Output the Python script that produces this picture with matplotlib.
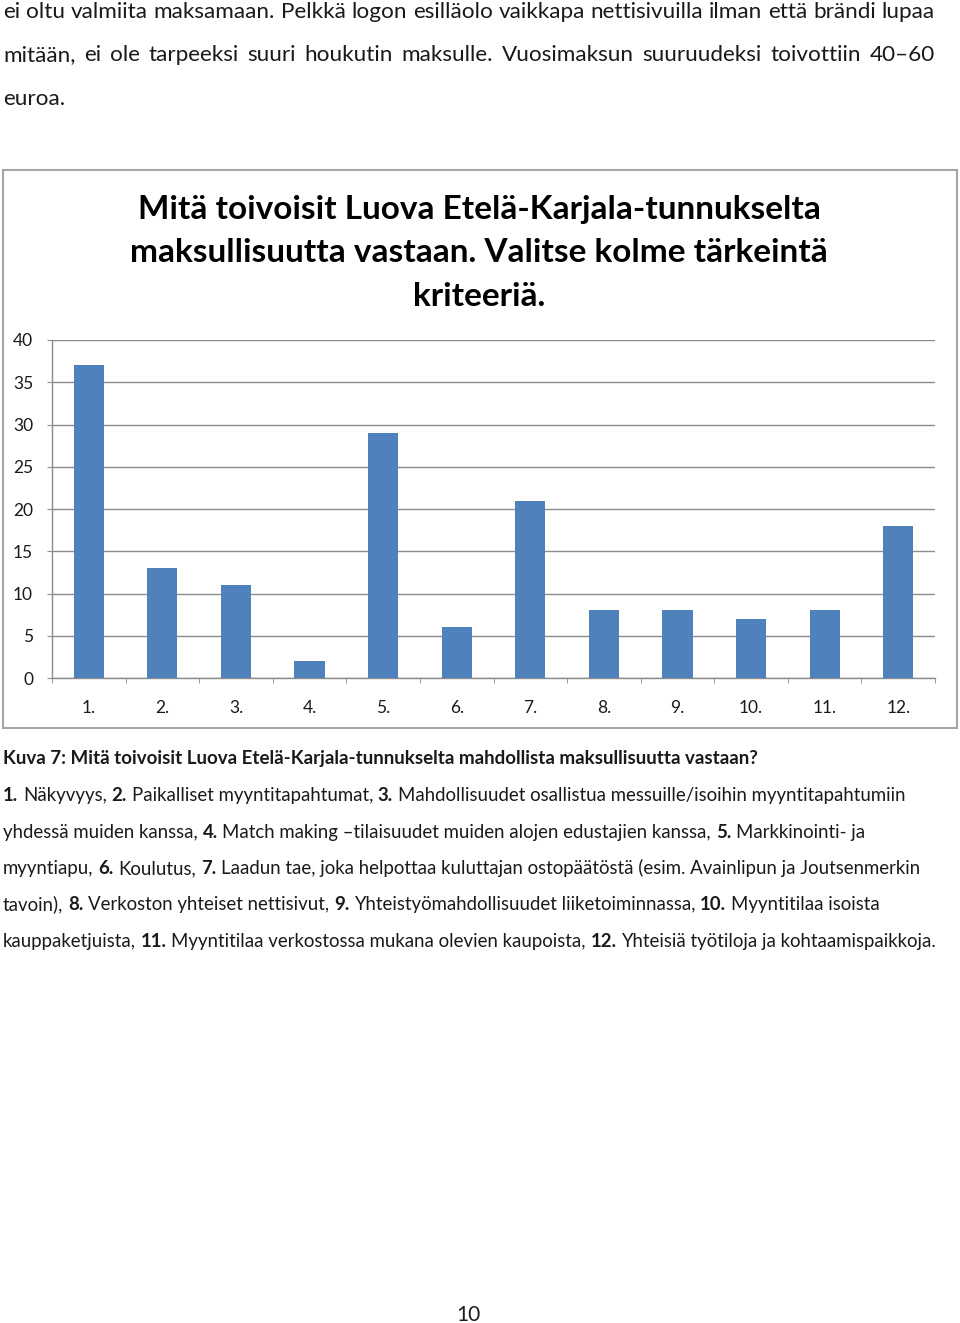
import matplotlib
matplotlib.use('Agg')
import matplotlib.pyplot as plt
from matplotlib.patches import Rectangle
from matplotlib.ticker import FixedLocator

# ---------------- data ----------------
categories = ['1.', '2.', '3.', '4.', '5.', '6.', '7.', '8.', '9.', '10.', '11.', '12.']
values = [37, 13, 11, 2, 29, 6, 21, 8, 8, 7, 8, 18]
y_ticks = [0, 5, 10, 15, 20, 25, 30, 35, 40]

chart_title = ['Mitä toivoisit Luova Etelä-Karjala-tunnukselta',
               'maksullisuutta vastaan. Valitse kolme tärkeintä',
               'kriteeriä.']

paragraph_lines = [
    'ei oltu valmiita maksamaan. Pelkkä logon esilläolo vaikkapa nettisivuilla ilman että brändi lupaa',
    'mitään, ei ole tarpeeksi suuri houkutin maksulle. Vuosimaksun suuruudeksi toivottiin 40–60',
    'euroa.',
]
caption = 'Kuva 7: Mitä toivoisit Luova Etelä-Karjala-tunnukselta mahdollista maksullisuutta vastaan?'
legend_lines = [
    [('1.', True), (' Näkyvyys, ', False), ('2.', True), (' Paikalliset myyntitapahtumat, ', False),
     ('3.', True), (' Mahdollisuudet osallistua messuille/isoihin myyntitapahtumiin', False)],
    [('yhdessä muiden kanssa, ', False), ('4.', True),
     (' Match making –tilaisuudet muiden alojen edustajien kanssa, ', False), ('5.', True),
     (' Markkinointi- ja', False)],
    [('myyntiapu, ', False), ('6.', True), (' Koulutus, ', False), ('7.', True),
     (' Laadun tae, joka helpottaa kuluttajan ostopäätöstä (esim. Avainlipun ja Joutsenmerkin', False)],
    [('tavoin), ', False), ('8.', True), (' Verkoston yhteiset nettisivut, ', False), ('9.', True),
     (' Yhteistyömahdollisuudet liiketoiminnassa, ', False), ('10.', True), (' Myyntitilaa isoista', False)],
    [('kauppaketjuista, ', False), ('11.', True), (' Myyntitilaa verkostossa mukana olevien kaupoista, ', False),
     ('12.', True), (' Yhteisiä työtiloja ja kohtaamispaikkoja.', False)],
]
page_number = '10'

# ---------------- style ----------------
FONT = 'Lato'
plt.rcParams['font.family'] = [FONT, 'DejaVu Sans']
BAR_COLOR = '#4f81bd'
GRID_COLOR = '#8c8c8c'
TEXT_COLOR = '#1a1a1a'

W, H = 960, 1323
fig = plt.figure(figsize=(W / 100, H / 100), dpi=100)
fig.patch.set_facecolor('white')
renderer = fig.canvas.get_renderer()


def fx(px):
    return px / W


def fy(py):
    return 1 - py / H


def measure(s, size, bold=False):
    t = fig.text(0, 0, s, fontsize=size, fontweight='bold' if bold else 'normal')
    w = t.get_window_extent(renderer).width
    t.remove()
    return w


def space_width(size, bold=False):
    return measure('a a', size, bold) - measure('aa', size, bold)


def segments(runs):
    """Split runs into (text, bold, trailing_space) pieces with stripped text."""
    out = []
    for txt, bold in runs:
        lead = txt.startswith(' ')
        trail = txt.endswith(' ')
        core = txt.strip(' ')
        if lead and out:
            out[-1][2] = True
        if core:
            out.append([core, bold, trail])
    return out


def natural_width(runs, size):
    segs = segments(runs)
    sp = space_width(size)
    total = 0
    for i, (t, b, tr) in enumerate(segs):
        total += measure(t, size, b)
        if tr and i < len(segs) - 1:
            total += sp
    return total


def fit_size(runs, target, ref=12.0):
    return ref * target / natural_width(runs, ref)


def draw_segments(x0, y_base, runs, size):
    sp = space_width(size)
    x = x0
    for t, b, tr in segments(runs):
        fig.text(fx(x), fy(y_base), t, fontsize=size,
                 fontweight='bold' if b else 'normal', color=TEXT_COLOR,
                 va='baseline', ha='left')
        x += measure(t, size, b) + (sp if tr else 0)


def draw_justified(x0, x1, y_base, line, size):
    words = line.split(' ')
    widths = [measure(w, size) for w in words]
    gap = (x1 - x0 - sum(widths)) / (len(words) - 1)
    x = x0
    for w, wd in zip(words, widths):
        fig.text(fx(x), fy(y_base), w, fontsize=size, color=TEXT_COLOR,
                 va='baseline', ha='left')
        x += wd + gap


# ---------------- top paragraph ----------------
BODY = fit_size([(paragraph_lines[0], False)], 925)
para_base = [18, 61, 105]
draw_justified(3, 935, para_base[0], paragraph_lines[0], BODY)
draw_justified(3, 935, para_base[1], paragraph_lines[1], BODY)
fig.text(fx(3), fy(para_base[2]), paragraph_lines[2], fontsize=BODY, color=TEXT_COLOR,
         va='baseline', ha='left')

# ---------------- chart frame ----------------
fig.patches.append(Rectangle((fx(3), fy(728)), fx(957) - fx(3), fy(170) - fy(728),
                             transform=fig.transFigure, fill=False,
                             edgecolor='#a6a6a6', linewidth=1.5))

# chart title
title_base = [219, 262, 306]
for line, yb in zip(chart_title, title_base):
    fig.text(fx(479), fy(yb), line, fontsize=24, fontweight='bold',
             color='black', ha='center', va='baseline')

# ---------------- axes ----------------
ax_left, ax_right, ax_bottom, ax_top = 52, 935, 678, 340
ax = fig.add_axes([fx(ax_left), fy(ax_bottom), fx(ax_right) - fx(ax_left),
                   fy(ax_top) - fy(ax_bottom)])
x = list(range(len(categories)))
ax.bar(x, values, width=0.41, color=BAR_COLOR, zorder=3)
ax.set_xlim(-0.5, len(categories) - 0.5)
ax.set_ylim(0, 40)
ax.set_yticks(y_ticks)
ax.yaxis.grid(True, color=GRID_COLOR, linewidth=1.0, zorder=0)
ax.set_axisbelow(True)
for s in ['top', 'right']:
    ax.spines[s].set_visible(False)
ax.spines['left'].set_color(GRID_COLOR)
ax.spines['bottom'].set_color(GRID_COLOR)
ax.spines['left'].set_linewidth(1.0)
ax.spines['bottom'].set_linewidth(1.0)
ax.set_xticks(x)
ax.set_xticklabels(categories)
ax.xaxis.set_minor_locator(FixedLocator([i - 0.5 for i in range(len(categories) + 1)]))
ax.tick_params(axis='x', which='major', length=0, pad=15.5, labelsize=12.5, labelcolor=TEXT_COLOR)
ax.tick_params(axis='x', which='minor', length=3.6, color=GRID_COLOR, direction='out')
ax.tick_params(axis='y', which='major', length=3.6, color=GRID_COLOR, direction='out',
               pad=10, labelsize=12.5, labelcolor=TEXT_COLOR)
ax.set_facecolor('white')

# ---------------- caption & legend text ----------------
CAP = 12.0 * 749 / measure(caption, 12.0, True)
fig.text(fx(3), fy(764), caption, fontsize=CAP, fontweight='bold', color=TEXT_COLOR,
         va='baseline', ha='left')
LEG = fit_size(legend_lines[4], 929)
legend_base = [801, 838, 874, 910, 947]
for runs, yb in zip(legend_lines, legend_base):
    draw_segments(3, yb, runs, LEG)

# page number
fig.text(fx(468), fy(1321), page_number, fontsize=15, color=TEXT_COLOR,
         ha='center', va='baseline')

fig.savefig('out.png', dpi=100, facecolor='white')
